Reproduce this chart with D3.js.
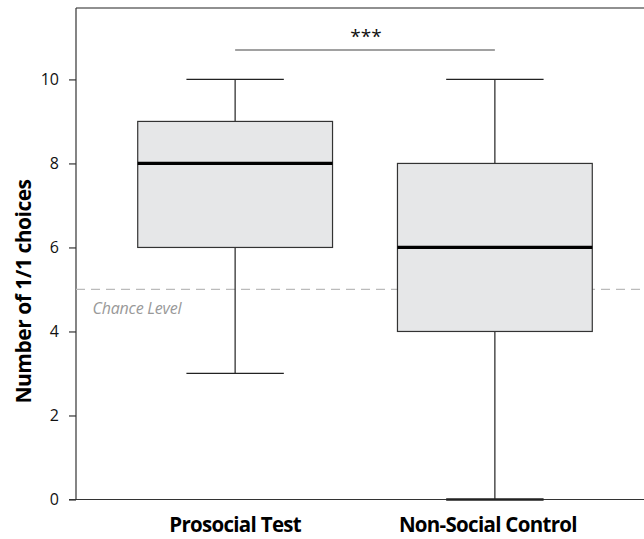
<!DOCTYPE html>
<html><head><meta charset="utf-8">
<script src="https://cdn.jsdelivr.net/npm/d3@7"></script>
<style>body{margin:0;background:#fff}svg{display:block}</style>
</head><body>
<svg id="c" width="644" height="539"></svg>
<script>
const categories = ["Prosocial Test", "Non-Social Control"];
const whiskerLow = [3, 0];
const q1 = [6, 4];
const medians = [8, 6];
const q3 = [9, 8];
const whiskerHigh = [10, 10];
const yTicks = [0, 2, 4, 6, 8, 10];
const chanceLevel = 5;
const sigLabel = "***";
const sigLevel = 10.7;

(function () {
const svg = d3.select("#c");
const font = "'Open Sans', 'Noto Sans', sans-serif";
const mLeft = 76, mRight = 644, mTop = 8, mBottom = 499.5;
const y = d3.scaleLinear().domain([0, 11.7]).range([mBottom, mTop]);
const x = d3.scaleBand().domain(categories).range([105.25, 624.75]).padding(0);
const bw = x.bandwidth() * 0.75;
const cap = bw / 4;

svg.append("line").attr("x1", mLeft).attr("x2", mRight).attr("y1", mTop).attr("y2", mTop)
  .attr("stroke", "#222").attr("stroke-width", 1.2);

const ya = svg.append("g").attr("transform", `translate(${mLeft},0)`)
  .call(d3.axisLeft(y).tickValues(yTicks).tickSize(7).tickPadding(10).tickSizeOuter(0));
ya.select(".domain").attr("stroke", "#333").attr("stroke-width", 1.2).attr("d", `M0,${mTop}V${mBottom}`);
ya.selectAll(".tick line").attr("stroke", "#333").attr("stroke-width", 1.2);
ya.selectAll(".tick text").attr("font-family", font).attr("font-size", 16).attr("fill", "#111");

svg.append("line").attr("x1", mLeft - 7).attr("x2", mRight).attr("y1", y(0)).attr("y2", y(0))
  .attr("stroke", "#333").attr("stroke-width", 1.2);

svg.append("line").attr("x1", mLeft).attr("x2", mRight).attr("y1", y(chanceLevel)).attr("y2", y(chanceLevel))
  .attr("stroke", "#bbb").attr("stroke-width", 1.2).attr("stroke-dasharray", "9,6");
svg.append("text").attr("x", 92.5).attr("y", y(chanceLevel) + 25).text("Chance Level")
  .attr("font-family", font).attr("font-style", "italic").attr("font-size", 16).attr("fill", "#999")
  .attr("letter-spacing", "-0.2");

categories.forEach((c, i) => {
  const cx = x(c) + x.bandwidth() / 2;
  const g = svg.append("g");
  g.append("line").attr("x1", cx).attr("x2", cx).attr("y1", y(whiskerHigh[i])).attr("y2", y(q3[i]))
    .attr("stroke", "#222").attr("stroke-width", 1.2);
  g.append("line").attr("x1", cx).attr("x2", cx).attr("y1", y(q1[i])).attr("y2", y(whiskerLow[i]))
    .attr("stroke", "#222").attr("stroke-width", 1.2);
  g.append("line").attr("x1", cx - cap).attr("x2", cx + cap).attr("y1", y(whiskerHigh[i])).attr("y2", y(whiskerHigh[i]))
    .attr("stroke", "#222").attr("stroke-width", 1.2);
  g.append("line").attr("x1", cx - cap).attr("x2", cx + cap).attr("y1", y(whiskerLow[i])).attr("y2", y(whiskerLow[i]))
    .attr("stroke", "#222").attr("stroke-width", whiskerLow[i] === 0 ? 2.4 : 1.2);
  g.append("rect").attr("x", cx - bw / 2).attr("width", bw).attr("y", y(q3[i])).attr("height", y(q1[i]) - y(q3[i]))
    .attr("fill", "#e6e7e8").attr("stroke", "#333").attr("stroke-width", 1.2);
  g.append("line").attr("x1", cx - bw / 2).attr("x2", cx + bw / 2).attr("y1", y(medians[i])).attr("y2", y(medians[i]))
    .attr("stroke", "#000").attr("stroke-width", 3.2);
  svg.append("text").attr("x", cx - (i === 1 ? 7 : 0)).attr("y", 532).attr("text-anchor", "middle").text(c)
    .attr("font-family", font).attr("font-weight", "bold").attr("font-size", 20.5).attr("fill", "#000")
    .attr("letter-spacing", "-0.7");
});

const c0 = x(categories[0]) + x.bandwidth() / 2, c1 = x(categories[1]) + x.bandwidth() / 2;
svg.append("line").attr("x1", c0).attr("x2", c1).attr("y1", y(sigLevel)).attr("y2", y(sigLevel))
  .attr("stroke", "#444").attr("stroke-width", 1.2);
svg.append("text").attr("x", (c0 + c1) / 2 + 1).attr("y", y(sigLevel) - 7).attr("text-anchor", "middle").text(sigLabel)
  .attr("font-family", font).attr("font-size", 19).attr("fill", "#111");

svg.append("text").attr("transform", `translate(31,291.5) rotate(-90)`)
  .attr("text-anchor", "middle").text("Number of 1/1 choices")
  .attr("font-family", font).attr("font-weight", "bold").attr("font-size", 21).attr("fill", "#000")
  .attr("letter-spacing", "-0.5");
})();
</script>
</body></html>
